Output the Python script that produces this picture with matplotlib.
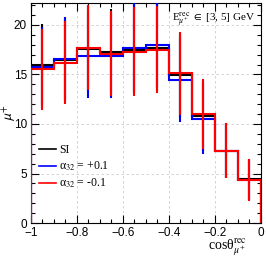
import numpy as np
import matplotlib
matplotlib.use("Agg")
import matplotlib.pyplot as plt
from matplotlib.ticker import MultipleLocator
from matplotlib.lines import Line2D

edges = [-1.0, -0.9, -0.8, -0.7, -0.6, -0.5, -0.4, -0.3, -0.2, -0.1, 0.0]
si_vals = [16.0, 16.5, 17.6, 17.3, 17.5, 17.7, 14.9, 10.8, 7.3, 4.4]
plus_vals = [15.7, 16.6, 16.9, 16.9, 17.7, 18.0, 14.4, 10.5, 7.3, 4.35]
minus_vals = [15.5, 16.2, 17.7, 17.1, 17.3, 17.5, 15.1, 11.0, 7.3, 4.35]
errs = [4.1, 4.2, 4.3, 4.3, 4.5, 4.4, 4.2, 3.5, 2.8, 2.1]
xtick_vals = [-1, -0.8, -0.6, -0.4, -0.2, 0]
xtick_labels = ["\u22121", "\u22120.8", "\u22120.6", "\u22120.4", "\u22120.2", "0"]

fig = plt.figure(figsize=(2.66, 2.57), dpi=100)
ax = fig.add_axes([0.1165, 0.132, 0.8645, 0.856])

centers = [(edges[i] + edges[i + 1]) / 2 for i in range(len(edges) - 1)]
series = [(si_vals, "black", "SI"),
          (plus_vals, "blue", "α$_{32}$ = +0.1"),
          (minus_vals, "red", "α$_{32}$ = -0.1")]
for vals, col, lab in series:
    ax.stairs(vals, edges, color=col, lw=1.5, zorder=3)
    ax.errorbar(centers, vals, yerr=errs, fmt="none", ecolor=col, elinewidth=1.5,
                capsize=0, zorder=3)

ax.set_xlim(-1, 0)
ax.set_ylim(0, 22.2)
ax.xaxis.set_major_locator(MultipleLocator(0.2))
ax.xaxis.set_minor_locator(MultipleLocator(0.05))
ax.yaxis.set_major_locator(MultipleLocator(5))
ax.yaxis.set_minor_locator(MultipleLocator(1))
ax.tick_params(which="both", direction="in", top=True, right=True, labelsize=8.5)
ax.tick_params(axis="x", pad=3)
ax.tick_params(axis="y", pad=3)
ax.tick_params(which="major", length=6, width=0.8)
ax.tick_params(which="minor", length=3, width=0.8)
ax.set_xticks(xtick_vals)
ax.set_xticklabels(xtick_labels, family="Liberation Sans", fontsize=8.5)
for t in ax.get_yticklabels():
    t.set_family("Liberation Sans")
ax.grid(True, which="major", ls=(0, (3, 3)), color="#cccccc", lw=0.6)
ax.set_axisbelow(True)

ax.text(0.975, 0.965, r"E$^{\rm rec}_{\mu^{+}}$ $\in$ [3, 5] GeV", transform=ax.transAxes,
        ha="right", va="top", fontsize=8, family="Liberation Serif",
        math_fontfamily="stix")
ax.set_ylabel(r"$\mu^{+}$", fontsize=10, math_fontfamily="stixsans")
ax.yaxis.set_label_coords(-0.055, 0.5)
ax.set_xlabel(r"cosθ$^{\rm rec}_{\mu^{+}}$", fontsize=10, family="Liberation Serif",
              math_fontfamily="stix", ha="right")
ax.xaxis.set_label_coords(0.94, -0.068)

handles = [Line2D([], [], color=c, lw=1.2) for _, c, _ in series]
labels = [l for _, _, l in series]
leg = ax.legend(handles, labels, loc="lower left", bbox_to_anchor=(-0.01, 0.1),
                frameon=False, handlelength=1.4, handletextpad=0.3, labelspacing=0.3,
                prop={"family": "Liberation Serif", "size": 8.5})
for t in leg.get_texts():
    t.set_math_fontfamily("stix")

fig.savefig("out.png", dpi=100)
